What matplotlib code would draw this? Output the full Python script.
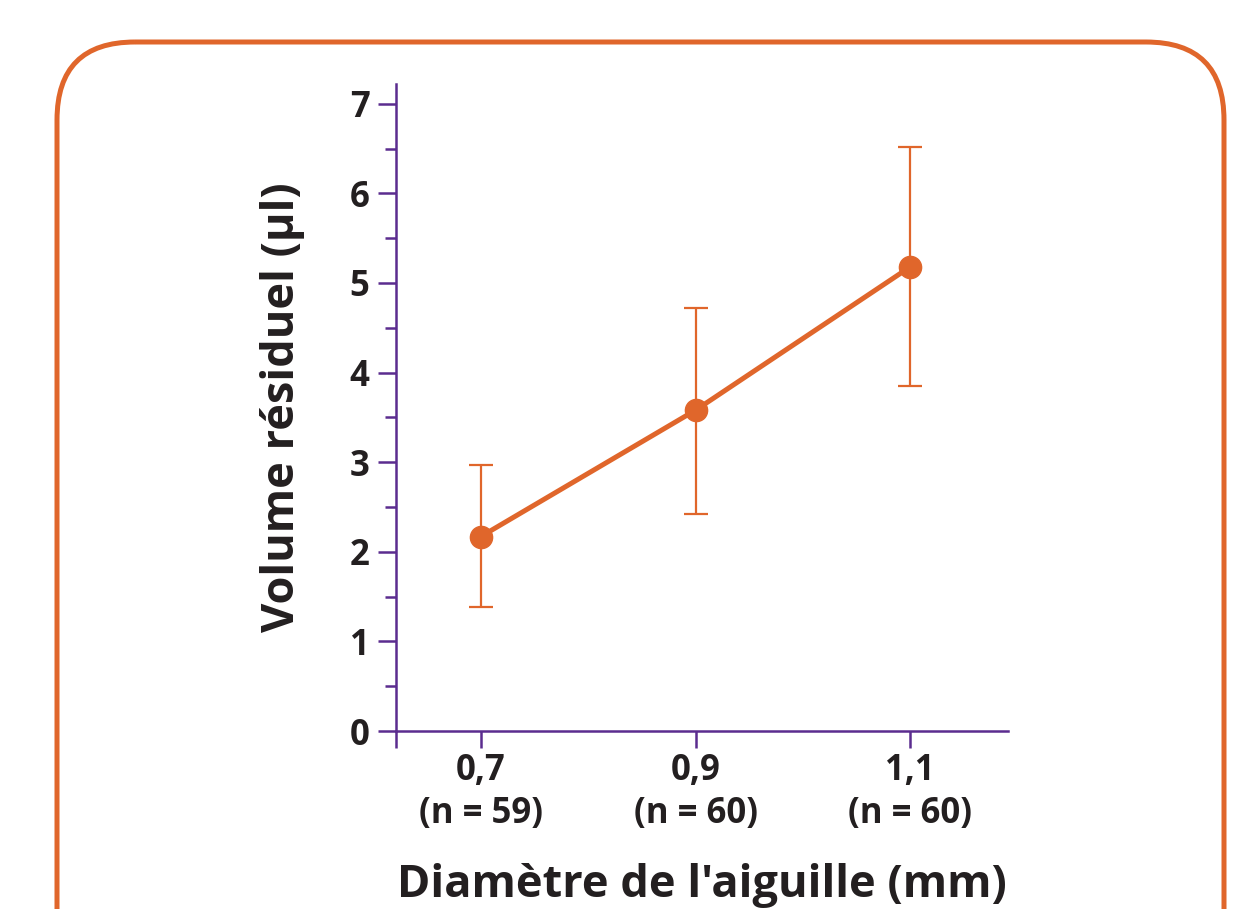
import matplotlib
matplotlib.use("Agg")
import matplotlib.pyplot as plt
from matplotlib.patches import FancyBboxPatch

# Data
diametres = [0.7, 0.9, 1.1]
tick_labels = ["0,7\n(n = 59)", "0,9\n(n = 60)", "1,1\n(n = 60)"]
volume_moyen = [2.17, 3.58, 5.18]
err_haut = [2.97, 4.72, 6.52]
err_bas = [1.38, 2.42, 3.85]

orange = "#E0662B"
violet = "#5B2C8F"
texte = "#231F20"

plt.rcParams["font.family"] = ["Open Sans", "DejaVu Sans"]
plt.rcParams["font.weight"] = "bold"

fig = plt.figure(figsize=(12.55, 9.09), dpi=100)

# rounded orange frame, drawn in pixel units on a background axes
bg = fig.add_axes([0, 0, 1, 1], zorder=-1)
bg.set_xlim(0, 1255)
bg.set_ylim(909, 0)
bg.axis("off")
bg.add_patch(FancyBboxPatch((57, 42), 1167, 1000,
                            boxstyle="round,pad=0,rounding_size=78",
                            fill=False, edgecolor=orange, linewidth=3.6))

ax = fig.add_axes([0.3155, 0.1958, 0.4877, 0.7118])
ax.patch.set_alpha(0)

yerr = [[m - b for m, b in zip(volume_moyen, err_bas)],
        [h - m for h, m in zip(err_haut, volume_moyen)]]
ax.errorbar(diametres, volume_moyen, yerr=yerr, fmt="none", ecolor=orange,
            elinewidth=1.6, capsize=8.3, capthick=1.6, zorder=2)
ax.plot(diametres, volume_moyen, color=orange, linewidth=3.6, marker="o",
        markersize=16, zorder=3, clip_on=False)

xmin, xmax = 0.621, 1.191
ax.set_xlim(xmin, xmax)
ax.set_ylim(0, 7.22)

ax.set_xticks([xmin] + diametres)
ax.set_xticklabels([""] + tick_labels, fontsize=25, fontweight="bold",
                   color=texte, linespacing=1.25)
ax.set_yticks(range(0, 8))
ax.set_yticks([i + 0.5 for i in range(7)], minor=True)
ax.tick_params(axis="y", labelsize=25, colors=violet, labelcolor=texte,
               length=13, width=1.8, pad=6)
ax.tick_params(axis="y", which="minor", length=8, width=1.8, colors=violet)
ax.tick_params(axis="x", length=12, width=1.8, colors=violet,
               labelcolor=texte, pad=4)
for lab in ax.get_yticklabels():
    lab.set_fontweight("bold")

for s in ["top", "right"]:
    ax.spines[s].set_visible(False)
for s in ["left", "bottom"]:
    ax.spines[s].set_color(violet)
    ax.spines[s].set_linewidth(1.8)

ax.set_ylabel("Volume résiduel (µl)", fontsize=32.5, fontweight="bold",
              color=texte, labelpad=32)
ax.set_xlabel("Diamètre de l'aiguille (mm)", fontsize=32.5, fontweight="bold",
              color=texte, labelpad=22)

fig.savefig("out.png", dpi=100)
